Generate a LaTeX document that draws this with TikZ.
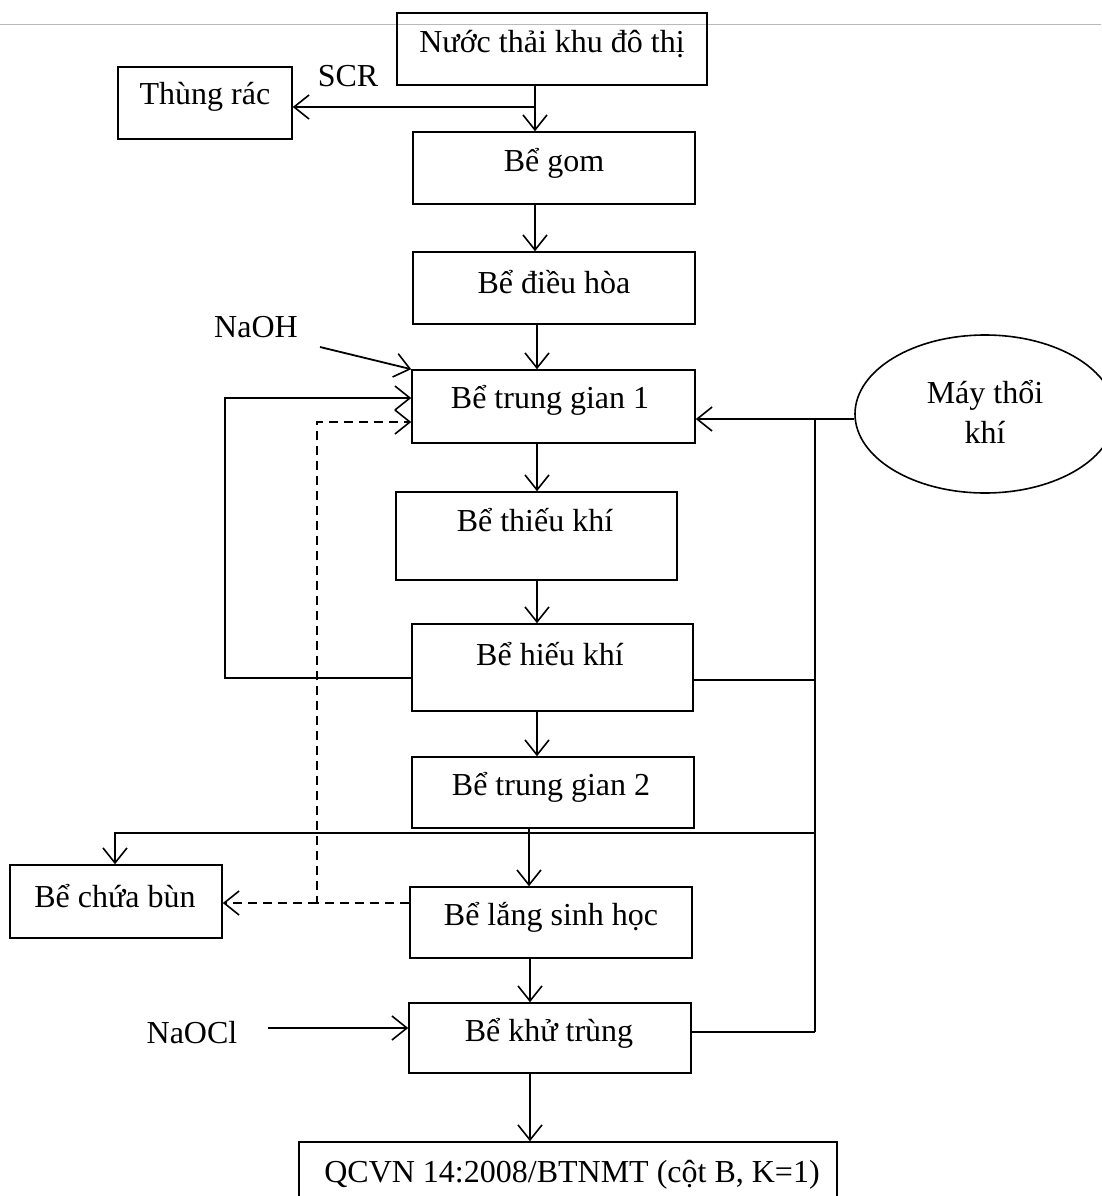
\documentclass[tikz,border=0pt]{standalone}
\usepackage{fontspec}
\setmainfont{Liberation Serif}
\usetikzlibrary{arrows.meta,shapes.geometric,calc}
\begin{document}
\begin{tikzpicture}[x=1pt,y=-1pt,
  box/.style={draw, line width=1.6pt, rectangle, inner sep=0pt},
  txt/.style={font=\fontsize{32}{40}\selectfont, inner sep=0pt},
  ln/.style={line width=1.8pt},
  tip/.style={-{Straight Barb[length=15pt,width=24pt,line width=1.6pt]}},
  arr/.style={ln, tip},
  dsh/.style={ln, dash pattern=on 9pt off 6pt},
]
\useasboundingbox (0,0) rectangle (1101,1196);
\draw[gray!55, line width=1pt] (0,25) -- (1101,25);

% boxes
\node[box, minimum width=310pt, minimum height=72pt] (nuoc) at (552,49) {};
\node[box, minimum width=174pt, minimum height=72pt] (thung) at (205,103) {};
\node[box, minimum width=282pt, minimum height=72pt] (gom) at (554,168) {};
\node[box, minimum width=282pt, minimum height=72pt] (dh) at (554,288) {};
\node[box, minimum width=283pt, minimum height=73pt] (tg1) at (553.5,406.5) {};
\node[box, minimum width=281pt, minimum height=88pt] (thieu) at (536.5,536) {};
\node[box, minimum width=281pt, minimum height=87pt] (hieu) at (552.5,667.5) {};
\node[box, minimum width=282pt, minimum height=71pt] (tg2) at (553,792.5) {};
\node[box, minimum width=212pt, minimum height=73pt] (bun) at (116,901.5) {};
\node[box, minimum width=282pt, minimum height=71pt] (lang) at (551,922.5) {};
\node[box, minimum width=282pt, minimum height=70pt] (khu) at (550,1038) {};
\node[box, minimum width=538pt, minimum height=80pt] (qcvn) at (568,1182) {};
\node[draw, ellipse, line width=1.6pt, minimum width=260pt, minimum height=158pt, inner sep=0pt] (air) at (985,414) {};

% texts
\node[txt] (nuocT) at (552,44) {Nước thải khu đô thị};
\node[txt] (thungT) at (205,97) {Thùng rác};
\node[txt] (gomT) at (554,163) {Bể gom};
\node[txt] (dhT) at (554,282) {Bể điều hòa};
\node[txt] (tg1T) at (550,400) {Bể trung gian 1};
\node[txt] (thieuT) at (535,520) {Bể thiếu khí};
\node[txt] (hieuT) at (550,654) {Bể hiếu khí};
\node[txt] (tg2T) at (551,787) {Bể trung gian 2};
\node[txt] (bunT) at (115,896) {Bể chứa bùn};
\node[txt] (langT) at (551,917) {Bể lắng sinh học};
\node[txt] (khuT) at (549,1033) {Bể khử trùng};
\node[txt] (qcvnT) at (572,1175) {QCVN 14:2008/BTNMT (cột B, K=1)};
\node[txt, align=center] (airT) at (985,412) {Máy thổi\\khí};
\node[txt] (scrT) at (348,76) {SCR};
\node[txt] (naohT) at (256,327) {NaOH};
\node[txt] (naoclT) at (192,1033) {NaOCl};

% column coordinates
\coordinate (xa) at (535,0);
\coordinate (xb) at (537,0);
\coordinate (xc) at (529,0);
\coordinate (xd) at (530,0);

% main flow
\draw[arr] (nuoc.south -| xa) -- (gom.north -| xa);
\draw[arr] (gom.south -| xa) -- (dh.north -| xa);
\draw[arr] (dh.south -| xb) -- (tg1.north -| xb);
\draw[arr] (tg1.south -| xb) -- (thieu.north -| xb);
\draw[arr] (thieu.south -| xb) -- (hieu.north -| xb);
\draw[arr] (hieu.south -| xb) -- (tg2.north -| xb);
\draw[arr] (tg2.south -| xc) -- (lang.north -| xc);
\draw[arr] (lang.south -| xd) -- (khu.north -| xd);
\draw[arr] (khu.south -| xd) -- (qcvn.north -| xd);

% SCR
\coordinate (scr) at (535,107);
\draw[arr] (scr) -- (scr -| thung.east);

% NaOH
\coordinate (naohS) at (320,347);
\draw[arr] (naohS) -- (tg1.north west);

% return loop solid
\coordinate (loopL) at (225,678);
\coordinate (rin) at (0,398);
\draw[arr] (loopL -| hieu.west) -- (loopL) |- (tg1.west |- rin);

% dashed sludge return
\coordinate (dL) at (317,903);
\coordinate (din) at (0,422);
\draw[dsh, tip] (lang.west |- dL) -- (dL) |- (tg1.west |- din);
\draw[dsh, tip] (dL) -- (bun.east |- dL);

% air blower
\coordinate (airY) at (0,419);
\coordinate (bus) at (815,419);
\coordinate (hY) at (0,680);
\coordinate (sY) at (0,833);
\coordinate (sX) at (115,0);
\coordinate (kY) at (0,1032);
\draw[arr] (air.west |- airY) -- (tg1.east |- airY);
\draw[ln] (bus) -- (bus |- kY);
\draw[ln] (hieu.east |- hY) -- (bus |- hY);
\draw[ln] (khu.east |- kY) -- (bus |- kY);
\draw[arr] (bus |- sY) -- (sX |- sY) -- (bun.north -| sX);

% NaOCl
\coordinate (clS) at (268,1028);
\draw[arr] (clS) -- (khu.west |- clS);
\end{tikzpicture}
\end{document}
